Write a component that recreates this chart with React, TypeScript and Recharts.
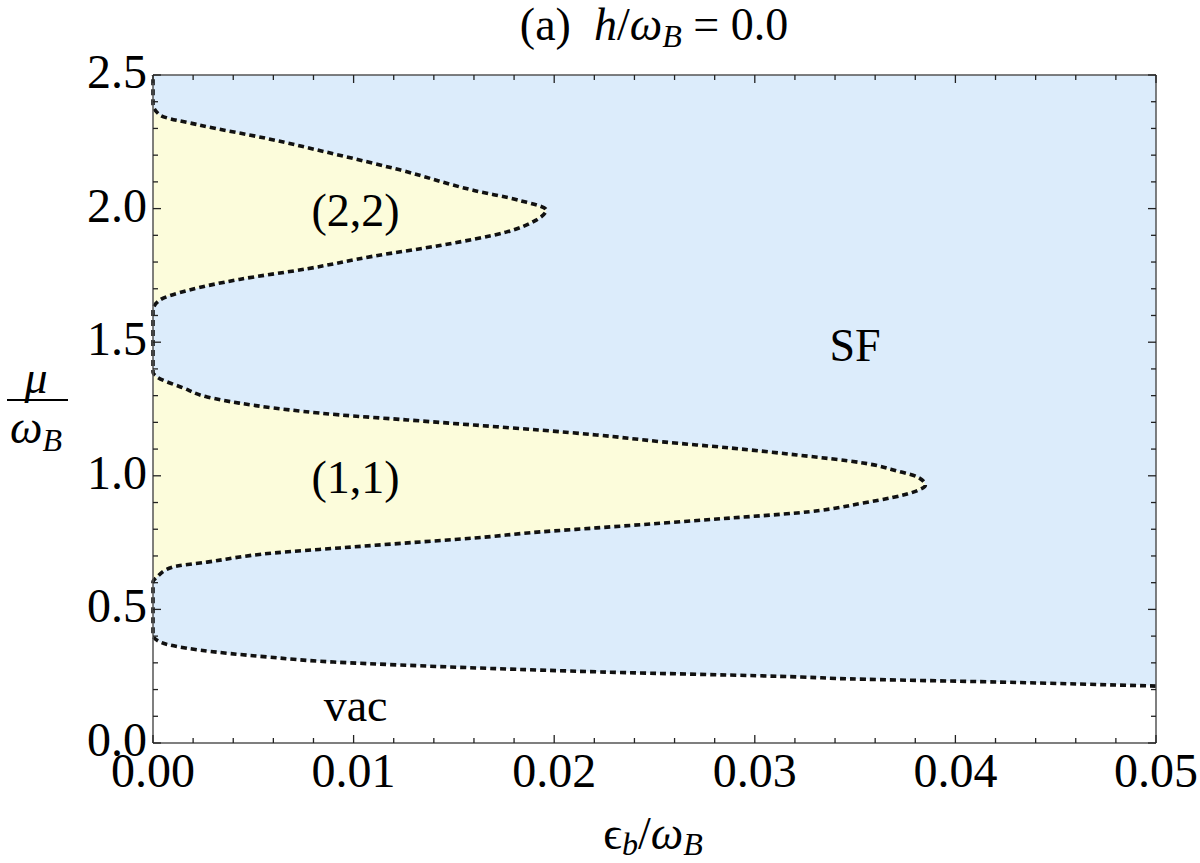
import React from "react";
import {
  ComposedChart,
  Area,
  Line,
  XAxis,
  YAxis,
  CartesianGrid,
  ReferenceDot,
} from "recharts";

// vacuum boundary: mu and eps_b at the boundary (both over omega_B)
const vacMu = [0, 0.213, 0.228, 0.24, 0.247, 0.266, 0.292, 0.303, 0.322, 0.348, 0.378, 0.404];
const vacEps = [0.05, 0.05, 0.0422, 0.0347, 0.0323, 0.0223, 0.0123, 0.009, 0.0057, 0.0023, 0.00035, 0];

// (1,1) lobe edge
const lobe1Mu = [
  0.603, 0.621, 0.659, 0.677, 0.711, 0.73, 0.749, 0.767, 0.79, 0.805, 0.823, 0.842, 0.861, 0.898,
  0.939, 0.965, 0.996, 1.018, 1.048, 1.078, 1.104, 1.127, 1.153, 1.171, 1.19, 1.209, 1.228, 1.254,
  1.272, 1.295, 1.329, 1.37, 1.388,
];
const lobe1Eps = [
  0, 0.0002, 0.001, 0.0027, 0.006, 0.0093, 0.0127, 0.016, 0.0193, 0.0221, 0.0254, 0.0288, 0.0321,
  0.0354, 0.0379, 0.0385, 0.0381, 0.0371, 0.0354, 0.0321, 0.0288, 0.0254, 0.0221, 0.0193, 0.016,
  0.0127, 0.0093, 0.006, 0.0043, 0.0027, 0.0015, 0.0002, 0,
];

// (2,2) lobe edge
const lobe2Mu = [
  1.62, 1.658, 1.695, 1.735, 1.775, 1.822, 1.862, 1.912, 1.957, 1.995, 2.03, 2.068, 2.145, 2.205,
  2.262, 2.313, 2.35, 2.391,
];
const lobe2Eps = [
  0, 0.00035, 0.0018, 0.0043, 0.0077, 0.011, 0.0143, 0.0176, 0.0191, 0.0196, 0.0183, 0.016, 0.0123,
  0.009, 0.0057, 0.0023, 0.00035, 0,
];

const muMax = 2.5;
const epsMax = 0.05;

const xTicks = [
  0, 0.002, 0.004, 0.006, 0.008, 0.01, 0.012, 0.014, 0.016, 0.018, 0.02, 0.022, 0.024, 0.026, 0.028,
  0.03, 0.032, 0.034, 0.036, 0.038, 0.04, 0.042, 0.044, 0.046, 0.048, 0.05,
];
const xMajor = [0, 0.01, 0.02, 0.03, 0.04, 0.05];
const xLabels = ["0.00", "0.01", "0.02", "0.03", "0.04", "0.05"];

const yTicks = [
  0, 0.1, 0.2, 0.3, 0.4, 0.5, 0.6, 0.7, 0.8, 0.9, 1.0, 1.1, 1.2, 1.3, 1.4, 1.5, 1.6, 1.7, 1.8, 1.9,
  2.0, 2.1, 2.2, 2.3, 2.4, 2.5,
];
const yMajor = [0, 0.5, 1.0, 1.5, 2.0, 2.5];
const yLabels = ["0.0", "0.5", "1.0", "1.5", "2.0", "2.5"];

const regionText = ["(2,2)", "(1,1)", "SF", "vac"];
const regionEps = [0.0101, 0.0101, 0.035, 0.0101];
const regionMu = [1.995, 0.996, 1.49, 0.142];

const FONT = '"Liberation Serif", "Times New Roman", serif';
const BLUE = "#dcecfb";
const YELLOW = "#fcfcdb";
const FRAME = "#555";

type Row = { mu: number; vac?: number; lobe?: number; edge?: number };

const data: Row[] = [];
vacMu.forEach((mu, i) => {
  const row: Row = { mu, vac: vacEps[i] };
  if (i > 0) row.edge = vacEps[i];
  if (i === vacMu.length - 1) row.lobe = 0;
  data.push(row);
});
lobe1Mu.forEach((mu, i) => data.push({ mu, lobe: lobe1Eps[i], edge: lobe1Eps[i] }));
lobe2Mu.forEach((mu, i) => data.push({ mu, lobe: lobe2Eps[i], edge: lobe2Eps[i] }));
data.push({ mu: muMax, lobe: 0, edge: 0 });

const labelFor = (v: number, major: number[], labels: string[]) => {
  const i = major.findIndex((m) => Math.abs(m - v) < 1e-9);
  return i >= 0 ? labels[i] : null;
};

const BottomTick = (props: any) => {
  const { x, y, payload } = props;
  const label = labelFor(payload.value, xMajor, xLabels);
  return (
    <g>
      <line x1={x} x2={x} y1={y} y2={y - (label ? 8 : 5)} stroke="#222" strokeWidth={1.3} />
      {label && (
        <text x={x} y={y + 44} textAnchor="middle" fontSize={48} fontFamily={FONT} fill="#000">
          {label}
        </text>
      )}
    </g>
  );
};

const TopTick = (props: any) => {
  const { x, y, payload } = props;
  const major = labelFor(payload.value, xMajor, xLabels);
  return <line x1={x} x2={x} y1={y} y2={y + (major ? 8 : 5)} stroke="#222" strokeWidth={1.3} />;
};

const LeftTick = (props: any) => {
  const { x, y, payload } = props;
  const label = labelFor(payload.value, yMajor, yLabels);
  return (
    <g>
      <line x1={x} x2={x + (label ? 8 : 5)} y1={y} y2={y} stroke="#222" strokeWidth={1.3} />
      {label && (
        <text x={x - 6} y={y + 13} textAnchor="end" fontSize={48} fontFamily={FONT} fill="#000">
          {label}
        </text>
      )}
    </g>
  );
};

const RightTick = (props: any) => {
  const { x, y, payload } = props;
  const major = labelFor(payload.value, yMajor, yLabels);
  return <line x1={x} x2={x - (major ? 8 : 5)} y1={y} y2={y} stroke="#222" strokeWidth={1.3} />;
};

export default function App() {
  return (
    <div style={{ position: "absolute", left: 0, top: 0, width: 1200, height: 863, background: "#fff" }}>
      <ComposedChart
        width={1200}
        height={863}
        data={data}
        layout="vertical"
        margin={{ top: 74, right: 43, bottom: 0, left: 0 }}
      >
        <CartesianGrid fill={BLUE} stroke="none" horizontal={false} vertical={false} />
        <XAxis
          type="number"
          domain={[0, epsMax]}
          ticks={xTicks}
          interval={0}
          tick={BottomTick}
          tickLine={false}
          tickSize={0}
          tickMargin={0}
          axisLine={{ stroke: FRAME, strokeWidth: 1.5 }}
          height={120}
        />
        <XAxis
          xAxisId="top"
          orientation="top"
          type="number"
          domain={[0, epsMax]}
          allowDataOverflow
          ticks={xTicks}
          interval={0}
          tick={TopTick}
          tickLine={false}
          tickSize={0}
          tickMargin={0}
          axisLine={{ stroke: FRAME, strokeWidth: 1.5 }}
          height={1}
        />
        <YAxis
          type="number"
          dataKey="mu"
          domain={[0, muMax]}
          reversed
          ticks={yTicks}
          interval={0}
          tick={LeftTick}
          tickLine={false}
          tickSize={0}
          tickMargin={0}
          axisLine={{ stroke: FRAME, strokeWidth: 1.5 }}
          width={153}
        />
        <YAxis
          yAxisId="right"
          orientation="right"
          type="number"
          dataKey="mu"
          domain={[0, muMax]}
          allowDataOverflow
          reversed
          ticks={yTicks}
          interval={0}
          tick={RightTick}
          tickLine={false}
          tickSize={0}
          tickMargin={0}
          axisLine={{ stroke: FRAME, strokeWidth: 1.5 }}
          width={1}
        />
        <Area
          type="monotone"
          dataKey="vac"
          fill="#ffffff"
          fillOpacity={1}
          stroke="none"
          isAnimationActive={false}
        />
        <Area
          type="monotone"
          dataKey="lobe"
          fill={YELLOW}
          fillOpacity={1}
          stroke="none"
          isAnimationActive={false}
        />
        <Line
          type="monotone"
          dataKey="edge"
          stroke="#111"
          strokeWidth={3.6}
          strokeDasharray="6 4"
          dot={false}
          activeDot={false}
          isAnimationActive={false}
        />
        {/* invisible copy so the frame axes on top/right get a domain */}
        <Line
          xAxisId="top"
          yAxisId="right"
          type="monotone"
          dataKey="edge"
          stroke="none"
          dot={false}
          activeDot={false}
          legendType="none"
          isAnimationActive={false}
        />
        {regionText.map((t, i) => (
          <ReferenceDot
            key={t}
            x={regionEps[i]}
            y={regionMu[i]}
            r={0}
            stroke="none"
            fill="none"
            label={{ value: t, position: "center", fontSize: 46, fontFamily: FONT, fill: "#000" }}
          />
        ))}
      </ComposedChart>
      <svg
        width={1200}
        height={863}
        style={{ position: "absolute", left: 0, top: 0, pointerEvents: "none" }}
        fontFamily={FONT}
      >
        <text x={654} y={40} textAnchor="middle" fontSize={46} style={{ whiteSpace: "pre" }}>
          {"(a)  "}
          <tspan fontStyle="italic">h</tspan>/<tspan fontStyle="italic">ω</tspan>
          <tspan fontStyle="italic" fontSize={32} dy={7}>B</tspan>
          <tspan dy={-7}>{" = 0.0"}</tspan>
        </text>
        <text x={653} y={849} textAnchor="middle" fontSize={46} style={{ whiteSpace: "pre" }}>
          ϵ<tspan fontStyle="italic" fontSize={32} dy={6}>b</tspan>
          <tspan dy={-6}>/</tspan>
          <tspan fontStyle="italic">ω</tspan>
          <tspan fontStyle="italic" fontSize={32} dy={6}>B</tspan>
        </text>
        <text x={36} y={393} textAnchor="middle" fontSize={46} fontStyle="italic">
          μ
        </text>
        <line x1={7} x2={68} y1={400} y2={400} stroke="#000" strokeWidth={2.2} />
        <text x={36} y={443} textAnchor="middle" fontSize={46} style={{ whiteSpace: "pre" }}>
          <tspan fontStyle="italic">ω</tspan>
          <tspan fontStyle="italic" fontSize={32} dy={8}>B</tspan>
        </text>
      </svg>
    </div>
  );
}
